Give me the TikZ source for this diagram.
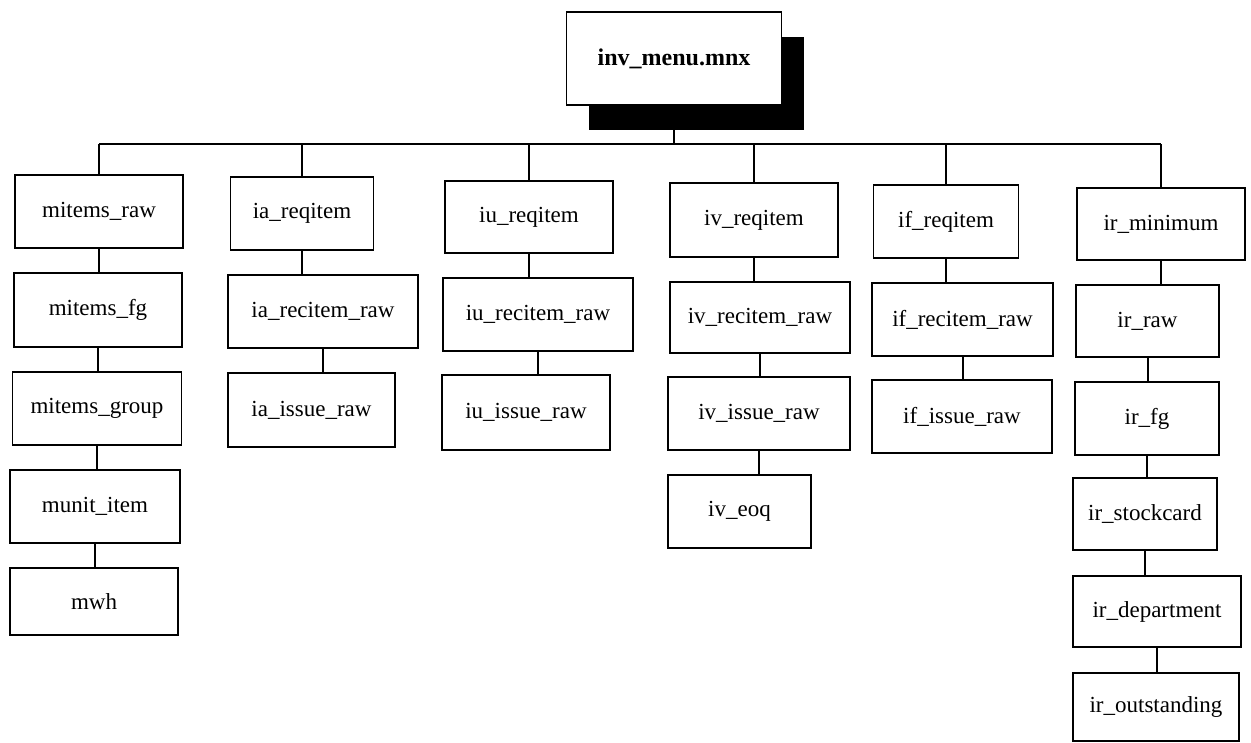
\documentclass[tikz,border=0pt]{standalone}
\usepackage{fontspec}
\setmainfont{Liberation Serif}
\begin{document}
\begin{tikzpicture}[x=1pt,y=-1pt,
  box/.style={draw=black, line width=1.8pt, fill=white, inner sep=0pt,
    font=\fontsize{23}{27}\selectfont},
  topbox/.style={box, font=\bfseries\fontsize{24}{28}\selectfont},
  conn/.style={draw=black, line width=2pt}]
\useasboundingbox (0,0) rectangle (1251,743);
\fill[white] (0,0) rectangle (1251,743);
\coordinate (bus) at (0,144);
% top node with shadow
\fill[black] (589,37) rectangle (804,130);
\node[topbox, minimum width=215pt, minimum height=93pt] (top) at (674,58.5) {inv\_menu.mnx};
% column 1
\node[box, minimum width=168pt, minimum height=73pt] (mr) at (99,211.5) {mitems\_raw};
\node[box, minimum width=168pt, minimum height=74pt] (mf) at (98,310) {mitems\_fg};
\node[box, minimum width=169pt, minimum height=73pt] (mg) at (97,408.5) {mitems\_group};
\node[box, minimum width=170pt, minimum height=73pt] (mu) at (95,506.5) {munit\_item};
\node[box, minimum width=168pt, minimum height=67pt] (mw) at (94,601.5) {mwh};
% column 2
\node[box, minimum width=143pt, minimum height=73pt] (ia1) at (302,213.5) {ia\_reqitem};
\node[box, minimum width=190pt, minimum height=73pt] (ia2) at (323,311.5) {ia\_recitem\_raw};
\node[box, minimum width=167pt, minimum height=74pt] (ia3) at (311.5,410) {ia\_issue\_raw};
% column 3
\node[box, minimum width=168pt, minimum height=72pt] (iu1) at (529,217) {iu\_reqitem};
\node[box, minimum width=190pt, minimum height=73pt] (iu2) at (538,314.5) {iu\_recitem\_raw};
\node[box, minimum width=168pt, minimum height=75pt] (iu3) at (526,412.5) {iu\_issue\_raw};
% column 4
\node[box, minimum width=168pt, minimum height=74pt] (iv1) at (754,220) {iv\_reqitem};
\node[box, minimum width=180pt, minimum height=71pt] (iv2) at (760,317.5) {iv\_recitem\_raw};
\node[box, minimum width=182pt, minimum height=73pt] (iv3) at (759,413.5) {iv\_issue\_raw};
\node[box, minimum width=143pt, minimum height=73pt] (iv4) at (739.5,511.5) {iv\_eoq};
% column 5
\node[box, minimum width=145pt, minimum height=73pt] (if1) at (946,221.5) {if\_reqitem};
\node[box, minimum width=181pt, minimum height=73pt] (if2) at (962.5,319.5) {if\_recitem\_raw};
\node[box, minimum width=180pt, minimum height=73pt] (if3) at (962,416.5) {if\_issue\_raw};
% column 6
\node[box, minimum width=168pt, minimum height=72pt] (ir1) at (1161,224) {ir\_minimum};
\node[box, minimum width=143pt, minimum height=72pt] (ir2) at (1147.5,321) {ir\_raw};
\node[box, minimum width=144pt, minimum height=73pt] (ir3) at (1147,418.5) {ir\_fg};
\node[box, minimum width=144pt, minimum height=72pt] (ir4) at (1145,514) {ir\_stockcard};
\node[box, minimum width=168pt, minimum height=71pt] (ir5) at (1157,611.5) {ir\_department};
\node[box, minimum width=166pt, minimum height=68pt] (ir6) at (1156,707) {ir\_outstanding};
% bus
\draw[conn] (mr.north |- bus) -- (ir1.north |- bus);
\draw[conn] (top.south) -- (top.south |- bus);
\foreach \n in {mr,ia1,iu1,iv1,if1,ir1}{
  \draw[conn] (\n.north) -- (\n.north |- bus);
}
% column chains
\foreach \a/\b in {mr/mf,mf/mg,mg/mu,mu/mw,ia1/ia2,ia2/ia3,iu1/iu2,iu2/iu3,iv1/iv2,iv2/iv3,iv3/iv4,if1/if2,if2/if3,ir1/ir2,ir2/ir3,ir3/ir4,ir4/ir5,ir5/ir6}{
  \draw[conn] (\a.south) -- (\a.south |- \b.north);
}
\end{tikzpicture}
\end{document}
